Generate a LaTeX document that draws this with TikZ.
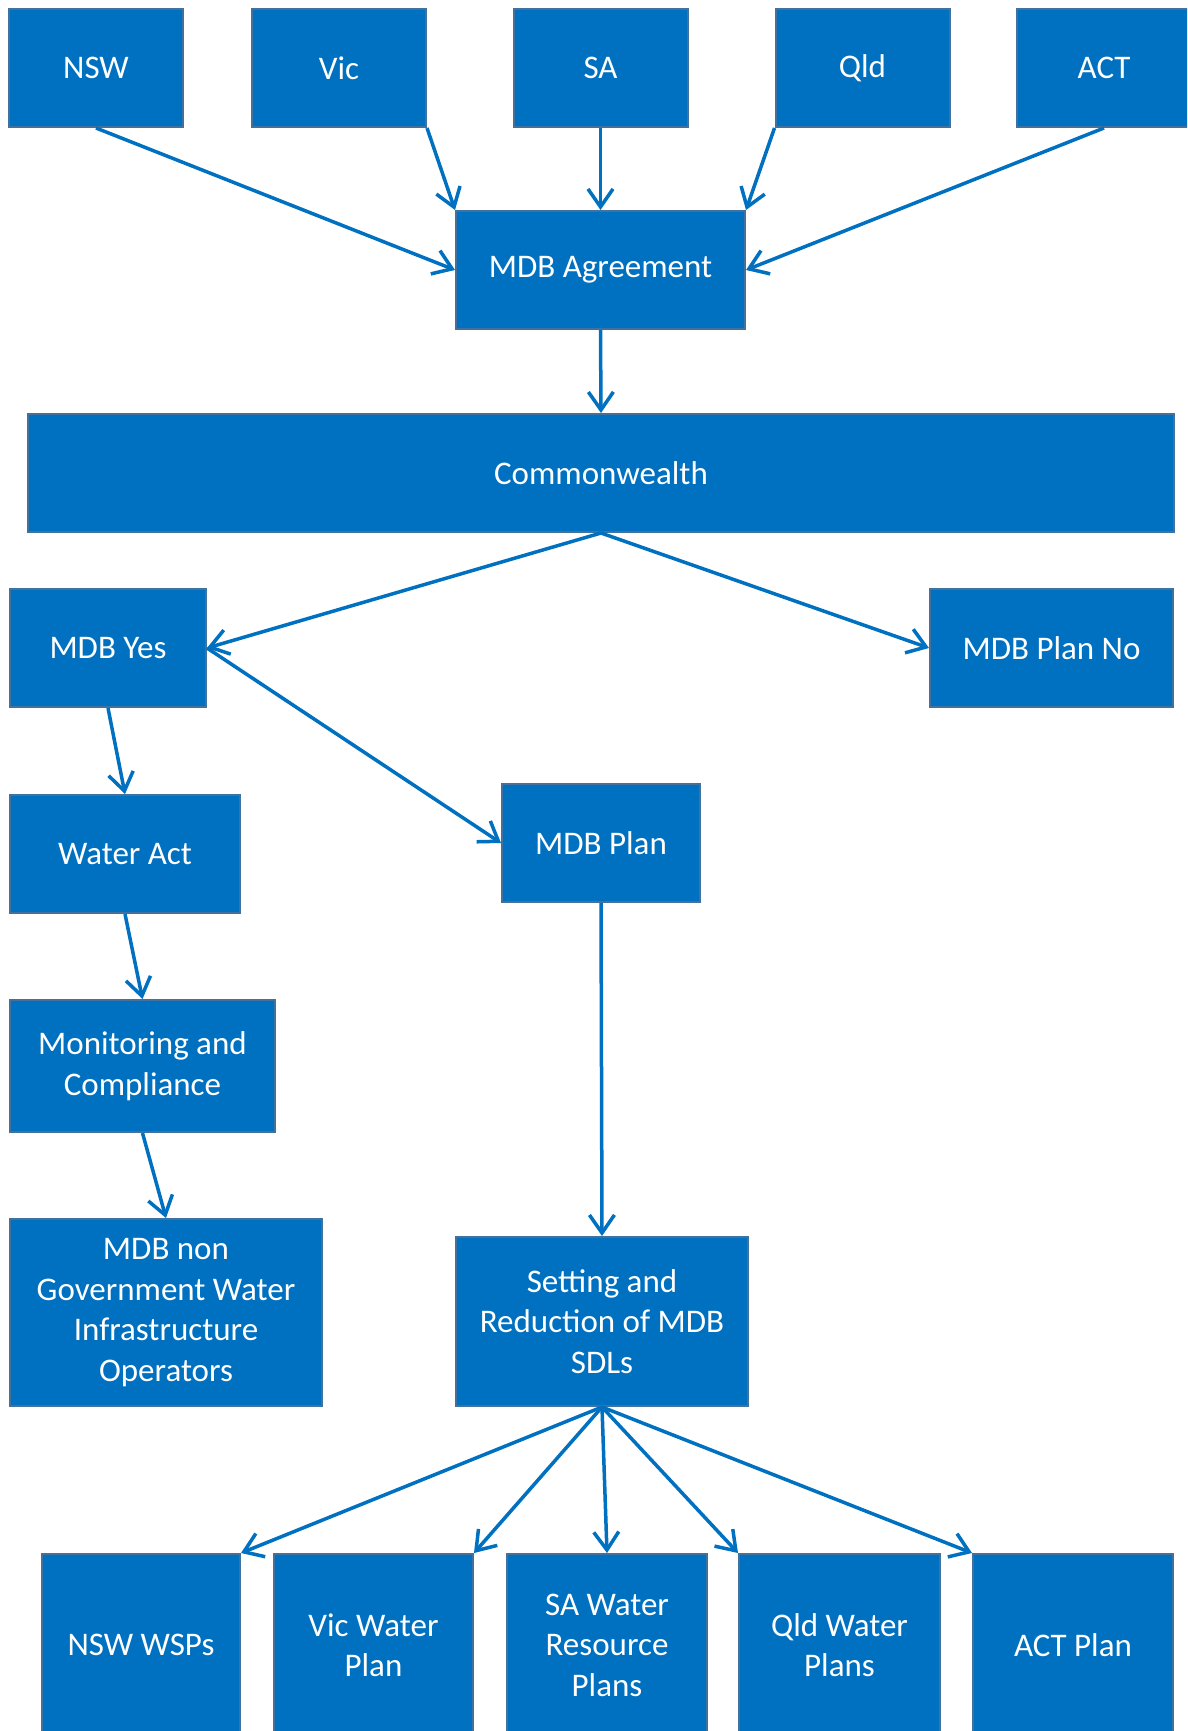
\documentclass[tikz,border=0pt]{standalone}
\usepackage{fontspec}
\setmainfont{Carlito}
\usetikzlibrary{arrows.meta}

\definecolor{boxfill}{HTML}{0070C0}
\definecolor{boxline}{HTML}{41719C}

\begin{document}
\begin{tikzpicture}[x=1pt, y=-1pt, >={Straight Barb[length=18pt,width=25pt]},
    box/.style={rectangle, draw=boxline, line width=2pt, fill=boxfill, text=white,
        font=\fontsize{33}{40.5}\selectfont, align=center, inner sep=0pt},
    link/.style={draw=boxfill, line width=3.5pt, ->}]

% ---- Page frame ----
            \fill[white] (0,0) rectangle (1187,1731);
            \useasboundingbox (0,0) rectangle (1187,1731);
            \clip (0,0) rectangle (1187,1731);

% ---- States (top row) ----
            \foreach \n/\x/\lab in {nsw/96/NSW, vic/339/Vic, sa/600.5/SA, qld/862.5/Qld, act/1104/ACT} {
                \node[box, minimum width=174pt, minimum height=118pt] (\n) at (\x,68) {\lab};
            }

% ---- Agreement and Commonwealth ----
            \node[box, minimum width=289pt, minimum height=118pt] (agree) at (600.5,270) {MDB Agreement};
            \node[box, minimum width=1146pt, minimum height=118pt] (cwlth) at (601,473) {Commonwealth};

% ---- Yes / No ----
            \node[box, minimum width=196pt, minimum height=118pt] (yes) at (108,648) {MDB Yes};
            \node[box, minimum width=243pt, minimum height=118pt] (planno) at (1051.5,648) {MDB Plan No};

% ---- Left column ----
            \node[box, minimum width=230pt, minimum height=118pt] (act2007) at (125,854) {Water Act};
            \node[box, minimum width=265pt, minimum height=132pt] (monitor) at (142.5,1066) {Monitoring and\\Compliance};
            \node[box, minimum width=312pt, minimum height=187pt] (nongov) at (166,1312.5) {MDB non\\Government Water\\Infrastructure\\Operators};

% ---- Middle column ----
            \node[box, minimum width=198pt, minimum height=118pt] (plan) at (601,843) {MDB Plan};
            \node[box, minimum width=292pt, minimum height=169pt] (sdl) at (602,1321.5) {Setting and\\Reduction of MDB\\SDLs};

% ---- State plans (bottom row) ----
            \foreach \n/\x/\w/\lab in {nswp/141/198/NSW WSPs, vicp/373.5/199/Vic Water\\Plan,
                sap/607/200/SA Water\\Resource\\Plans, qldp/839.5/201/Qld Water\\Plans, actp/1073/200/ACT Plan} {
                \node[box, minimum width=\w pt, minimum height=182pt] (\n) at (\x,1645) {\lab};
            }

% ---- Links into the agreement ----
            \draw[link] (nsw.south) -- (agree.west);
            \draw[link] (vic.south east) -- (agree.north west);
            \draw[link] (sa.south) -- (agree.north);
            \draw[link] (qld.south west) -- (agree.north east);
            \draw[link] (act.south) -- (agree.east);
            \draw[link] (agree.south) -- (cwlth.north);

% ---- Commonwealth branches ----
            \draw[link] (cwlth.south) -- (yes.east);
            \draw[link] (cwlth.south) -- (planno.west);
            \draw[link] (yes.east) -- (plan.west);

% ---- Left chain ----
            \draw[link] (yes.south) -- (act2007.north);
            \draw[link] (act2007.south) -- (monitor.north);
            \draw[link] (monitor.south) -- (nongov.north);

% ---- Plan to SDLs to state plans ----
            \draw[link] (plan.south) -- (sdl.north);
            \draw[link] (sdl.south) -- (nswp.north east);
            \draw[link] (sdl.south) -- (vicp.north east);
            \draw[link] (sdl.south) -- (sap.north);
            \draw[link] (sdl.south) -- (qldp.north west);
            \draw[link] (sdl.south) -- (actp.north west);

        \end{tikzpicture}
\end{document}
